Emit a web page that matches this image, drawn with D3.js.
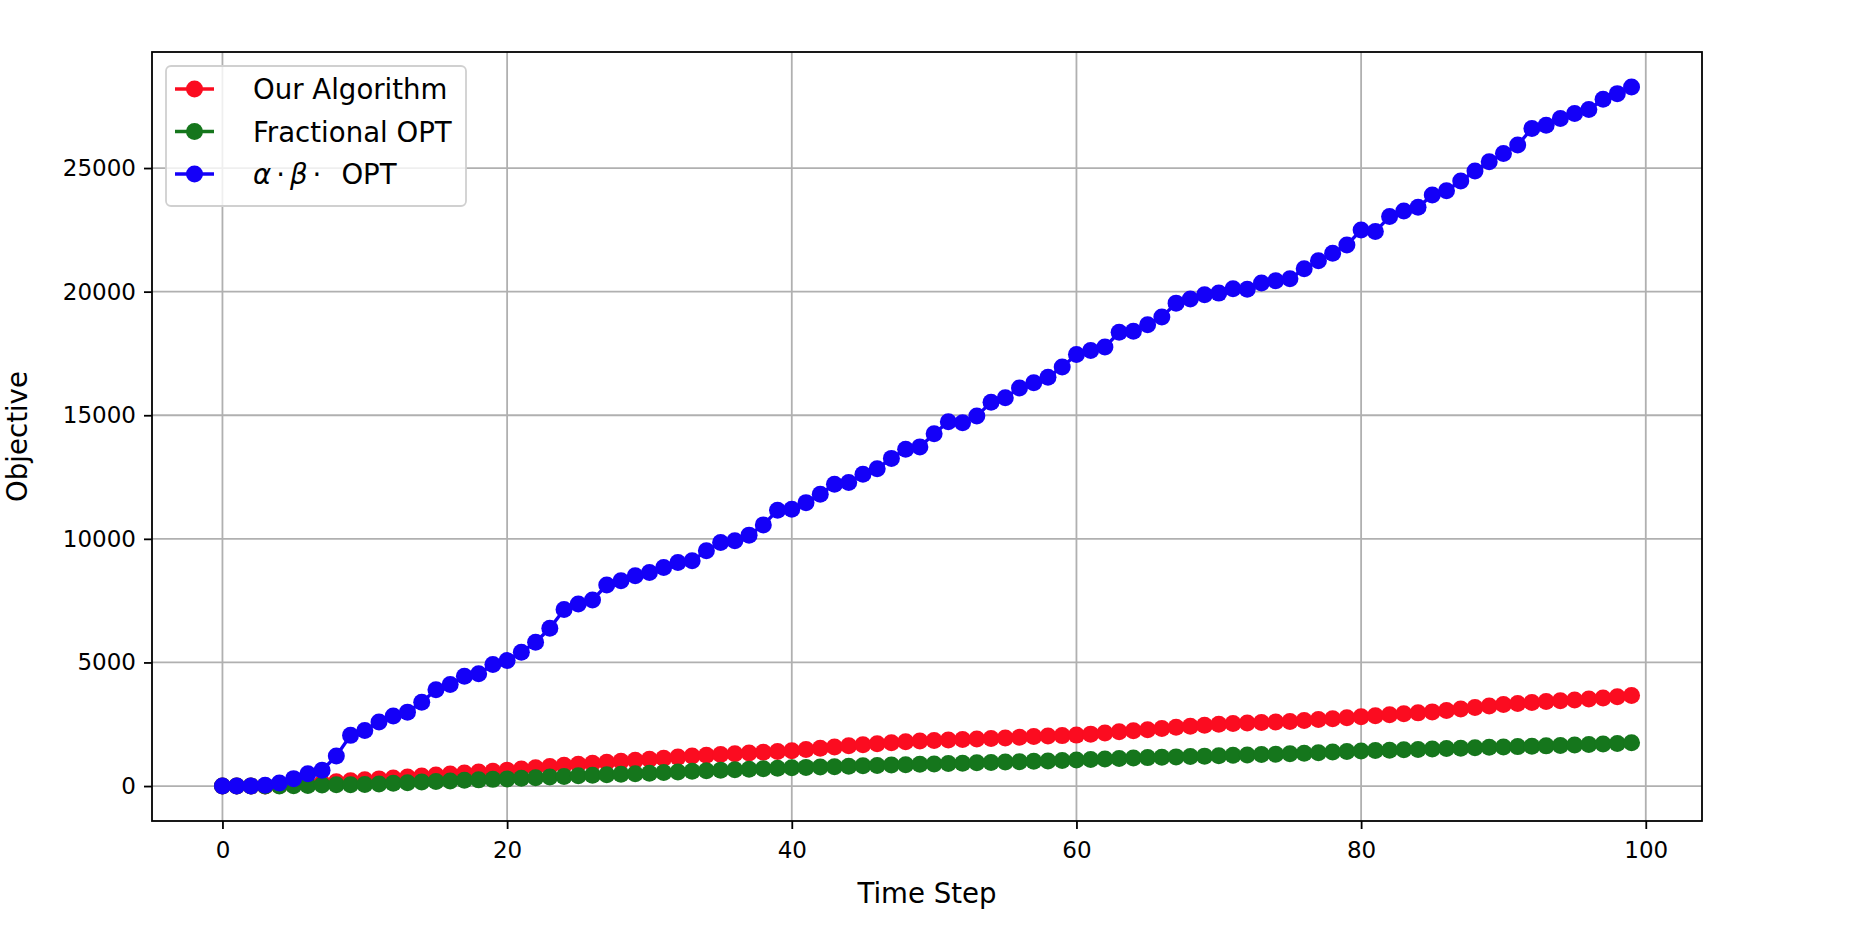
<!DOCTYPE html>
<meta charset="utf-8">

<!-- Load d3.js -->
<script src="https://d3js.org/d3.v7.min.js"></script>

<style>
  body { margin: 0; background: #fff; }
  text { font-family: "DejaVu Sans", sans-serif; fill: #000; }
</style>

<!-- Create a div where the graph will take place -->
<div id="my_dataviz"></div>

<script>

// time steps 0..99
var timeSteps = [
  0,1,2,3,4,5,6,7,8,9,10,11,12,13,14,15,16,17,18,19,
  20,21,22,23,24,25,26,27,28,29,30,31,32,33,34,35,36,37,38,39,
  40,41,42,43,44,45,46,47,48,49,50,51,52,53,54,55,56,57,58,59,
  60,61,62,63,64,65,66,67,68,69,70,71,72,73,74,75,76,77,78,79,
  80,81,82,83,84,85,86,87,88,89,90,91,92,93,94,95,96,97,98,99
];

// Our Algorithm
var ourAlgorithm = [
  0,0,0,5,20,45,90,130,170,210,250,290,330,370,410,450,490,530,565,600,
  640,690,740,790,840,880,920,960,1000,1040,1080,1120,1170,1220,1250,1280,1310,1340,1370,1400,
  1430,1480,1530,1580,1630,1670,1710,1750,1790,1820,1840,1860,1880,1900,1920,1940,1970,2000,2020,2040,
  2060,2100,2150,2200,2240,2280,2330,2380,2420,2460,2500,2530,2550,2570,2590,2610,2650,2690,2720,2760,
  2800,2840,2880,2920,2960,3000,3060,3120,3180,3240,3300,3340,3380,3420,3450,3480,3520,3560,3610,3660
];

// Fractional OPT
var fractionalOpt = [
  0,0,0,0,0,10,25,40,50,55,65,85,110,135,160,185,205,230,250,270,
  290,315,340,365,390,420,440,460,480,500,520,545,570,600,620,640,660,680,700,720,
  740,755,770,785,800,820,835,850,865,880,895,910,925,940,955,970,985,1000,1015,1030,
  1050,1070,1090,1110,1130,1150,1165,1180,1195,1210,1230,1245,1260,1275,1290,1310,1330,1350,1375,1400,
  1420,1435,1450,1465,1480,1500,1515,1530,1550,1565,1580,1595,1610,1625,1640,1660,1680,1700,1725,1750
];

// alpha * beta * OPT
var alphaBetaOpt = [
  0,0,0,30,125,300,500,640,1215,2050,2250,2590,2830,2990,3390,3900,4110,4440,4540,4915,
  5075,5410,5815,6380,7140,7365,7525,8130,8305,8505,8640,8840,9045,9110,9515,9850,9920,10150,10565,11160,
  11200,11465,11800,12210,12275,12610,12840,13255,13620,13720,14250,14735,14695,14965,15530,15705,16105,16310,16540,16955,
  17455,17615,17760,18355,18395,18665,18970,19535,19700,19875,19940,20115,20100,20345,20440,20520,20925,21245,21555,21890,
  22495,22430,23035,23265,23410,23910,24085,24475,24880,25255,25590,25930,26600,26735,27000,27205,27365,27785,28010,28280
];

var xTicks = [0, 20, 40, 60, 80, 100];
var yTicks = [0, 5000, 10000, 15000, 20000, 25000];
var seriesNames = ["Our Algorithm", "Fractional OPT", "alphaBeta"];
var seriesColors = ["#fb0c20", "#15761c", "#1400f8"];

// set the dimensions and margins of the graph
var W = 1864, H = 926;
var margin = {top: 52, right: 162, bottom: 105, left: 152},
    width = W - margin.left - margin.right,
    height = H - margin.top - margin.bottom;

var svg = d3.select("#my_dataviz")
  .append("svg")
    .attr("width", W)
    .attr("height", H)
  .append("g")
    .attr("transform", "translate(" + margin.left + "," + margin.top + ")");

// scales with matplotlib-like 5% padding
var xPad = (d3.max(timeSteps) - d3.min(timeSteps)) * 0.05;
var x = d3.scaleLinear()
  .domain([d3.min(timeSteps) - xPad, d3.max(timeSteps) + xPad])
  .range([0, width]);

var yMax = d3.max(alphaBetaOpt);
var yPad = yMax * 0.05;
var y = d3.scaleLinear()
  .domain([-yPad, yMax + yPad])
  .range([height, 0]);

// grid
svg.append("g").selectAll("line.vg")
  .data(xTicks).enter().append("line")
    .attr("x1", function(d) { return x(d); })
    .attr("x2", function(d) { return x(d); })
    .attr("y1", 0).attr("y2", height)
    .attr("stroke", "#b0b0b0").attr("stroke-width", 1.8);
svg.append("g").selectAll("line.hg")
  .data(yTicks).enter().append("line")
    .attr("x1", 0).attr("x2", width)
    .attr("y1", function(d) { return y(d); })
    .attr("y2", function(d) { return y(d); })
    .attr("stroke", "#b0b0b0").attr("stroke-width", 1.8);

// X axis
var xAxis = svg.append("g")
  .attr("transform", "translate(0," + height + ")")
  .call(d3.axisBottom(x).tickValues(xTicks).tickSize(8).tickPadding(13).tickFormat(d3.format("d")));
// Y axis
var yAxis = svg.append("g")
  .call(d3.axisLeft(y).tickValues(yTicks).tickSize(8).tickPadding(8).tickFormat(d3.format("d")));

[xAxis, yAxis].forEach(function(a) {
  a.select(".domain").remove();
  a.selectAll(".tick line").attr("stroke", "#000").attr("stroke-width", 1.8);
  a.selectAll(".tick text").style("font-size", "23px").attr("fill", "#000");
});

// lines + markers, one series after the other
var allSeries = [ourAlgorithm, fractionalOpt, alphaBetaOpt];
var line = d3.line()
  .x(function(d, i) { return x(timeSteps[i]); })
  .y(function(d) { return y(d); });

allSeries.forEach(function(values, k) {
  var g = svg.append("g");
  g.append("path")
    .datum(values)
    .attr("d", line)
    .attr("fill", "none")
    .attr("stroke", seriesColors[k])
    .attr("stroke-width", 3.4);
  g.selectAll("circle")
    .data(values)
    .enter().append("circle")
      .attr("cx", function(d, i) { return x(timeSteps[i]); })
      .attr("cy", function(d) { return y(d); })
      .attr("r", 8.5)
      .attr("fill", seriesColors[k]);
});

// frame
svg.append("rect")
  .attr("width", width).attr("height", height)
  .attr("fill", "none").attr("stroke", "#000").attr("stroke-width", 1.8);

// axis labels
svg.append("text")
  .attr("x", width / 2).attr("y", height + 82)
  .attr("text-anchor", "middle")
  .style("font-size", "27.6px")
  .text("Time Step");
svg.append("text")
  .attr("transform", "translate(" + (-125) + "," + (height / 2) + ") rotate(-90)")
  .attr("text-anchor", "middle")
  .style("font-size", "27.6px")
  .text("Objective");

// legend
var legend = svg.append("g").attr("transform", "translate(14,14)");
legend.append("rect")
  .attr("width", 300).attr("height", 140)
  .attr("rx", 5)
  .attr("fill", "#fff").attr("fill-opacity", 0.8)
  .attr("stroke", "#d0d0d0").attr("stroke-width", 1.8);

seriesNames.forEach(function(name, k) {
  var yy = 23 + k * 42.5;
  legend.append("line")
    .attr("x1", 9).attr("x2", 48)
    .attr("y1", yy).attr("y2", yy)
    .attr("stroke", seriesColors[k]).attr("stroke-width", 3.4);
  legend.append("circle")
    .attr("cx", 28.5).attr("cy", yy).attr("r", 8.5)
    .attr("fill", seriesColors[k]);
  var t = legend.append("text")
    .attr("x", 87).attr("y", yy + 10)
    .style("font-size", "27.6px");
  if (name === "alphaBeta") {
    t.append("tspan").style("font-style", "italic").text("\u03B1");
    t.append("tspan").attr("dx", 5).text("\u00B7");
    t.append("tspan").attr("dx", 5).style("font-style", "italic").text("\u03B2");
    t.append("tspan").attr("dx", 5).text("\u00B7");
    t.append("tspan").attr("dx", 20).text("OPT");
  } else {
    t.text(name);
  }
});

</script>
